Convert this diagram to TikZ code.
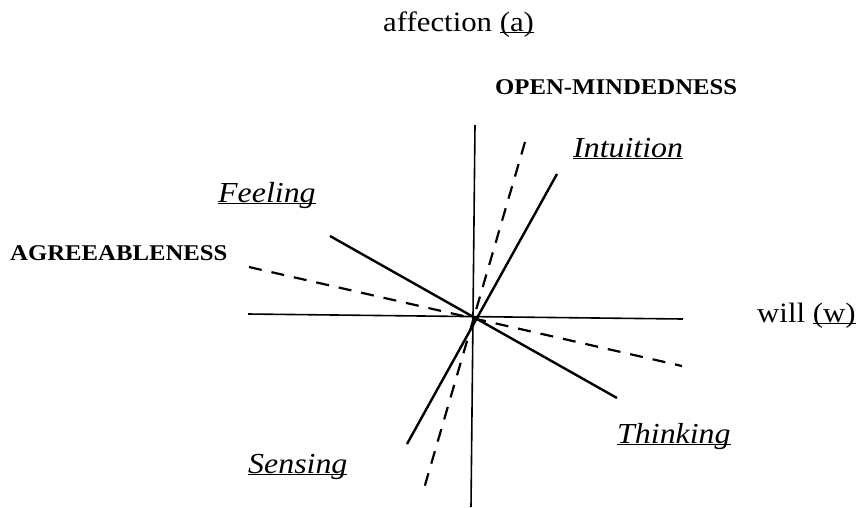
\documentclass[tikz,border=0pt]{standalone}
\usepackage{fontspec}
\setmainfont{Liberation Serif}[FakeStretch=1.1]
\usetikzlibrary{calc}
\tikzset{lbl/.style={anchor=base west,inner sep=0pt},
	axis/.style={line width=1.6pt},
	typeline/.style={line width=2.4pt},
	factorline/.style={line width=2.2pt,dash pattern=on 13pt off 10pt}}
\newcommand{\typelabel}[1]{\fontsize{29}{34}\selectfont\itshape\underbar{#1}}
\newcommand{\capslabel}[1]{\fontsize{22.5}{27}\selectfont\bfseries #1}
\begin{document}
\begin{tikzpicture}[x=1pt,y=-1pt]
	\useasboundingbox (0,0) rectangle (862,507);
	\coordinate (O) at (474,317);
	\coordinate (wl) at (248,314); \coordinate (wr) at (683,319);
	\coordinate (at) at (475,125); \coordinate (ab) at (471,507);
	\coordinate (N) at (557,174); \coordinate (S) at (407,444);
	\coordinate (F) at (330,236); \coordinate (T) at (617,398);
	\coordinate (Al) at (249,267); \coordinate (Ar) at (682,366);
	\coordinate (Ot) at (525,142); \coordinate (Ob) at (423,492);
	\draw[axis] (wl)--(wr) (at)--(ab);
	\draw[typeline] (S)--(N) (F)--(T);
	\draw[factorline] (Al)--(Ar) (Ot)--(Ob);
	\node[lbl] (affection) at (383,31) {\fontsize{28}{33}\selectfont affection \underbar{(a)}};
	\node[lbl] (will) at (757,322) {\fontsize{28}{33}\selectfont will \underbar{(w)}};
	\node[lbl] (open) at (495,94) {\capslabel{OPEN-MINDEDNESS}};
	\node[lbl] (agree) at (10,260) {\capslabel{AGREEABLENESS}};
	\node[lbl] (intuition) at (573,157) {\typelabel{Intuition}};
	\node[lbl] (feeling) at (218,202) {\typelabel{Feeling}};
	\node[lbl] (thinking) at (617,443) {\typelabel{Thinking}};
	\node[lbl] (sensing) at (248,473) {\typelabel{Sensing}};
\end{tikzpicture}
\end{document}
